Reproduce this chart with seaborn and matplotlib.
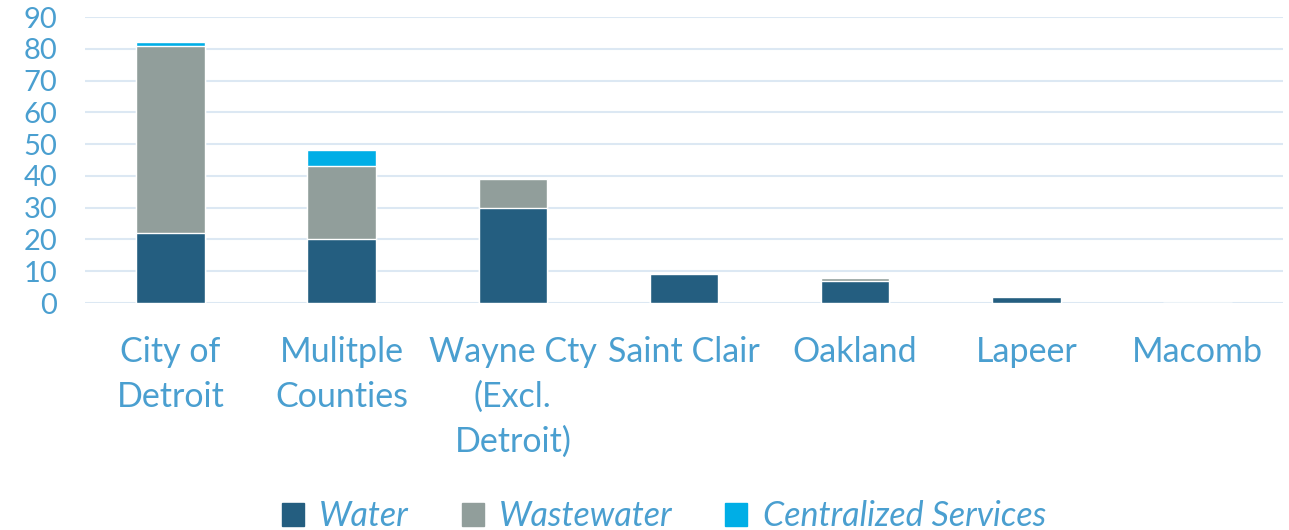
import pandas as pd
import seaborn as sns
import matplotlib.pyplot as plt
from matplotlib.patches import Patch

# Chart data
categories = ["City of\nDetroit", "Mulitple\nCounties", "Wayne Cty\n(Excl.\nDetroit)",
              "Saint Clair", "Oakland", "Lapeer", "Macomb"]
water = [22, 20, 30, 9, 7, 2, 0]
wastewater = [59, 23, 9, 0, 1, 0, 0]
centralized = [1, 5, 0, 0, 0, 0, 0]

df = pd.DataFrame({"category": categories, "Water": water,
                   "Wastewater": wastewater, "Centralized Services": centralized})
df["lvl2"] = df["Water"] + df["Wastewater"]
df["lvl3"] = df["lvl2"] + df["Centralized Services"]

c_water = "#245E80"
c_waste = "#919E9B"
c_central = "#00AEE6"
txt = "#4A9FD0"

sns.set_style("white")
plt.rcParams["font.family"] = ["Lato", "DejaVu Sans"]

fig = plt.figure(figsize=(12.89, 5.30), dpi=100)
ax = fig.add_axes([85 / 1289, 227 / 530, 1198 / 1289, 286 / 530])

# stacked bars: draw cumulative totals from the top down
sns.barplot(data=df, x="category", y="lvl3", color=c_central, width=0.4,
            saturation=1, ax=ax, zorder=2)
sns.barplot(data=df, x="category", y="lvl2", color=c_waste, width=0.4,
            saturation=1, ax=ax, zorder=3)
sns.barplot(data=df, x="category", y="Water", color=c_water, width=0.4,
            saturation=1, ax=ax, zorder=4)

ax.set_ylim(0, 90)
ax.set_yticks(range(0, 91, 10))
ax.yaxis.grid(True, color="#DCE8F3", linewidth=1.5, zorder=0)
ax.set_axisbelow(True)
for s in ax.spines.values():
    s.set_visible(False)
ax.set_xlabel("")
ax.set_ylabel("")
ax.tick_params(axis="y", labelsize=21, colors=txt, length=0, pad=20)
ax.tick_params(axis="x", labelsize=24.5, colors=txt, length=0, pad=24)
for lbl in ax.get_xticklabels():
    lbl.set_linespacing(1.47)

handles = [Patch(color=c_water, label="Water"),
           Patch(color=c_waste, label="Wastewater"),
           Patch(color=c_central, label="Centralized Services")]
leg = fig.legend(handles=handles, loc="lower center", bbox_to_anchor=(0.515, -0.062),
                 ncol=3, frameon=False, handlelength=0.65, handleheight=0.65,
                 handletextpad=0.45, columnspacing=1.55,
                 prop={"size": 24.5, "style": "italic"})
for t in leg.get_texts():
    t.set_color(txt)

fig.savefig("out.png", dpi=100)
